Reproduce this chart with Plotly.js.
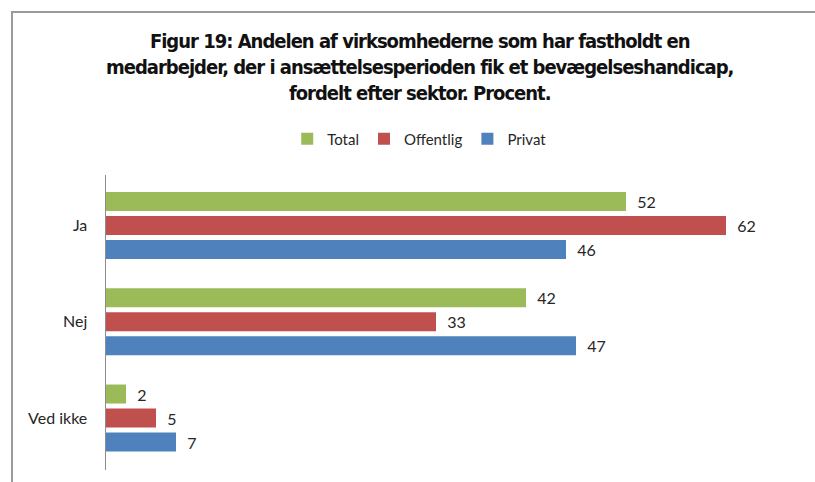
<!DOCTYPE html>
<html>
<head>
<meta charset="utf-8">
<script src="https://cdn.plot.ly/plotly-3.0.1.min.js"></script>
<style>
  html, body { margin: 0; padding: 0; background: #fff; }
  #wrap { position: relative; width: 815px; height: 482px; overflow: hidden; }
  #chart { width: 815px; height: 482px; }
  #frame { position: absolute; left: 11px; top: 11px; width: 900px; height: 600px;
           border-left: 2px solid #9a9a9a; border-top: 2px solid #9a9a9a; pointer-events: none; }
  .gtitle { letter-spacing: -1px; }
</style>
</head>
<body>
<div id="wrap">
  <div id="chart"></div>
  <div id="frame"></div>
</div>
<script>
const categories = ['Ja', 'Nej', 'Ved ikke'];
const seriesNames = ['Total', 'Offentlig', 'Privat'];
const totalValues = [52, 42, 2];
const offentligValues = [62, 33, 5];
const privatValues = [46, 47, 7];
const seriesColors = ['#9BBB59', '#C0504D', '#4F81BD'];

const titleText = 'Figur 19: Andelen af virksomhederne som har fastholdt en<br>' +
  'medarbejder, der i ansættelsesperioden fik et bevægelseshandicap,<br>' +
  'fordelt efter sektor. Procent.';

const valueSets = [totalValues, offentligValues, privatValues];
const labelFont = { family: 'Lato, "Open Sans", sans-serif', size: 16, color: '#262626' };

const traces = seriesNames.map((name, i) => ({
  type: 'bar',
  orientation: 'h',
  name: name,
  y: categories,
  x: valueSets[i],
  marker: { color: seriesColors[i] },
  text: valueSets[i].map(String),
  texttemplate: '\u00A0\u00A0%{x}',
  textposition: 'outside',
  constraintext: 'none',
  cliponaxis: false,
  textfont: labelFont,
  hoverinfo: 'skip'
}));

const layout = {
  width: 815,
  height: 482,
  paper_bgcolor: '#ffffff',
  plot_bgcolor: '#ffffff',
  margin: { l: 106, r: 9, t: 175, b: 12, pad: 0 },
  barmode: 'group',
  bargap: 0.252,
  bargroupgap: 0.208,
  showlegend: true,
  title: {
    text: titleText,
    font: { family: '"Liberation Sans Narrow", "DejaVu Sans Condensed", sans-serif', size: 20, color: '#111', weight: 'bold' },
    xref: 'container', x: 0.515, xanchor: 'center',
    yref: 'container', y: 1 - 48 / 482, yanchor: 'top'
  },
  legend: {
    orientation: 'h',
    xref: 'container', x: 0.515, xanchor: 'center',
    yref: 'container', y: 1 - 139 / 482, yanchor: 'middle',
    font: { family: 'Lato, "Open Sans", sans-serif', size: 15, color: '#262626' },
    itemwidth: 30,
    traceorder: 'normal'
  },
  xaxis: {
    range: [0, 70],
    showgrid: false,
    zeroline: false,
    showline: false,
    showticklabels: false,
    ticks: ''
  },
  yaxis: {
    type: 'category',
    categoryorder: 'array',
    categoryarray: categories,
    range: [2.54, -0.525],
    showgrid: false,
    zeroline: false,
    showline: true,
    linecolor: '#8c8c8c',
    linewidth: 1.5,
    ticks: '',
    ticklabelstandoff: 14,
    tickfont: { family: 'Lato, "Open Sans", sans-serif', size: 16, color: '#262626' }
  }
};

Plotly.newPlot('chart', traces, layout, { displayModeBar: false, staticPlot: true });
</script>
</body>
</html>
